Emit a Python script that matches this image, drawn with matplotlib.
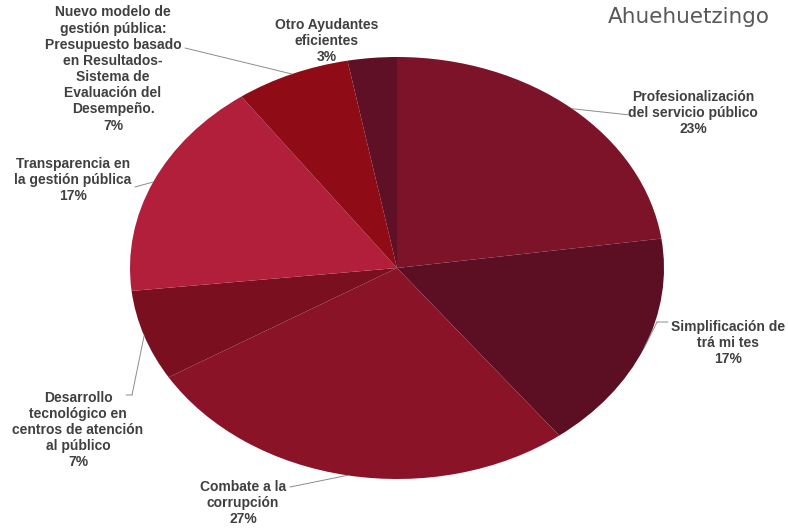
import numpy as np
import matplotlib
matplotlib.use('agg')
import matplotlib.pyplot as plt

labels = ['Profesionalización\ndel servicio público\n23%',
          'Simplificación de\ntrá mi tes\n17%',
          'Combate a la\ncorrupción\n27%',
          'Desarrollo\ntecnológico en\ncentros de atención\nal público\n7%',
          'Transparencia en\nla gestión pública\n17%',
          'Nuevo modelo de\ngestión pública:\nPresupuesto basado\nen Resultados-\nSistema de\nEvaluación del\nDesempeño.\n7%',
          'Otro Ayudantes\neficientes\n3%']
values = [23, 17, 27, 7, 17, 7, 3]
colors = ['#7D1329', '#5C0F22', '#8A1328', '#7A101F', '#B11F3B', '#8F0B16', '#5F1026']

W, H = 788, 529
# label centres (pixels, from top-left) and leader line points
label_pos = [(693, 113), (728, 343), (243, 503), (78, 430), (73, 180), (113, 69), (327, 41)]
leader = [[(630, 115)], [(668, 322), (657, 322)], [(290, 487)], [(126, 395), (132, 395)],
          [(135, 187)], [(185, 48)], []]

fig = plt.figure(figsize=(W / 100, H / 100), dpi=100)
ax = fig.add_axes([130 / W, 1 - 479 / H, 534 / W, 422 / H])
wedges, _ = ax.pie(values, colors=colors, startangle=90, counterclock=False,
                   wedgeprops=dict(linewidth=0))
ax.set_aspect('auto')
ax.set_xlim(-1, 1)
ax.set_ylim(-1, 1)

for w, lab, (lx, ly), pts in zip(wedges, labels, label_pos, leader):
    fig.text(lx / W, 1 - ly / H, lab, ha='center', va='center', fontsize=10,
             fontweight='bold', family='Liberation Sans', color='#404040', linespacing=1.2)
    if not pts:
        continue
    mid = np.deg2rad((w.theta1 + w.theta2) / 2)
    xe, ye = np.cos(mid), np.sin(mid)
    for (x0, y0), (x1, y1) in zip(pts[:-1], pts[1:]):
        ax.annotate('', xy=(x1, H - y1), xycoords='figure pixels',
                    xytext=(x0, H - y0), textcoords='figure pixels',
                    arrowprops=dict(arrowstyle='-', color='#8c8c8c', lw=0.7,
                                    shrinkA=0, shrinkB=0))
    x0, y0 = pts[-1]
    ax.annotate('', xy=(xe, ye), xycoords='data',
                xytext=(x0, H - y0), textcoords='figure pixels',
                arrowprops=dict(arrowstyle='-', color='#8c8c8c', lw=0.7,
                                shrinkA=0, shrinkB=0), annotation_clip=False)

fig.text(770 / W, 1 - 17 / H, 'Ahuehuetzingo', ha='right', va='center',
         fontsize=15.5, color='#595959', family='DejaVu Sans')

fig.savefig('out.png', dpi=100)
